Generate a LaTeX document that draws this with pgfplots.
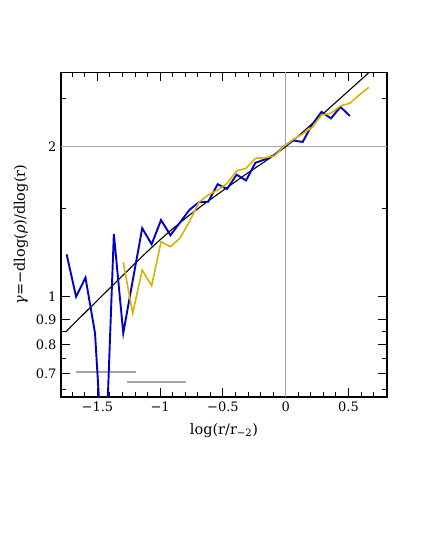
\documentclass[border=0pt]{standalone}
\usepackage{fontspec}
\setmainfont{DejaVu Serif}
\usepackage{pgfplots}
\pgfplotsset{compat=1.18}
\definecolor{cblue}{RGB}{0,0,200}
\definecolor{cgold}{RGB}{218,178,0}
\definecolor{cgray}{RGB}{165,165,165}
\begin{document}
\begin{tikzpicture}
\begin{axis}[
  scale only axis, width=326pt, height=324.7pt,
  at={(0,0)}, anchor=south west,
  xmin=-1.79, xmax=0.807,
  ymode=log, ymin=0.629, ymax=2.82,
  axis line style={line width=1.3pt},
  /pgf/number format/assume math mode=true,
  xtick={-1.5,-1,-0.5,0,0.5},
  xticklabels={−1.5,−1,−0.5,0,0.5},
  minor xtick={-1.7,-1.6,-1.4,-1.3,-1.2,-1.1,-0.9,-0.8,-0.7,-0.6,-0.4,-0.3,-0.2,-0.1,0.1,0.2,0.3,0.4,0.6,0.7},
  ytick={0.7,0.8,0.9,1,2},
  yticklabels={0.7,0.8,0.9,1,2},
  minor ytick={0.65,0.75,0.85,1.5,2.5},
  major tick length=9pt, minor tick length=5pt,
  tick style={line width=1pt, black},
  tick align=inside,
  xtick pos=both, ytick pos=both,
  ticklabel style={font=\fontsize{13}{15}\selectfont},
  xticklabel style={yshift=-1pt},
  yticklabel style={xshift=-1pt},
  label style={font=\fontsize{14.5}{17}\selectfont},
  xlabel={log(r/r\textsubscript{−2})},
  ylabel={{\itshape γ}=−dlog({\itshape ρ})/dlog(r)},
  xlabel style={at={(axis description cs:0.5,-0.102)}, anchor=center},
  ylabel style={at={(axis description cs:-0.123,0.5)}, anchor=center, rotate=0},
  clip=true,
]
% reference lines
\addplot[cgray, line width=0.8pt] coordinates {(-1.79,2) (0.807,2)};
\addplot[cgray, line width=0.8pt] coordinates {(0,0.629) (0,2.82)};
% gray horizontal segments
\addplot[cgray, line width=1.8pt] coordinates {(-1.669,0.705) (-1.193,0.705)};
\addplot[cgray, line width=1.8pt] coordinates {(-1.267,0.673) (-0.793,0.673)};
% black fit line
\addplot[black, line width=1.1pt, smooth] coordinates {
(-1.75,0.851) (-1.10,1.233) (-0.76,1.462) (-0.36,1.730) (0,2.0) (0.35,2.393) (0.70,2.871)};
% blue series
\addplot[cblue, line width=1.9pt] coordinates {
(-1.745,1.216) (-1.670,1.000) (-1.595,1.092) (-1.519,0.845) (-1.444,0.41)
(-1.369,1.336) (-1.294,0.845) (-1.219,1.076) (-1.143,1.372) (-1.068,1.274)
(-0.993,1.425) (-0.918,1.328) (-0.843,1.408) (-0.767,1.493) (-0.692,1.547)
(-0.617,1.551) (-0.542,1.681) (-0.467,1.645) (-0.391,1.757) (-0.316,1.711)
(-0.241,1.857) (-0.166,1.885) (-0.091,1.925) (-0.015,2.000) (0.060,2.058)
(0.135,2.044) (0.210,2.212) (0.285,2.348) (0.361,2.279) (0.436,2.403)
(0.511,2.305)};
% gold series
\addplot[cgold, line width=1.6pt] coordinates {
(-1.294,1.172) (-1.219,0.926) (-1.143,1.131) (-1.068,1.052)
(-0.993,1.289) (-0.918,1.260) (-0.843,1.310) (-0.767,1.414) (-0.692,1.547)
(-0.617,1.600) (-0.542,1.637) (-0.467,1.689) (-0.391,1.788) (-0.316,1.810)
(-0.241,1.895) (-0.166,1.900) (-0.091,1.916) (-0.015,2.002) (0.060,2.068)
(0.135,2.121) (0.210,2.186) (0.285,2.315) (0.361,2.334) (0.436,2.414)
(0.511,2.444) (0.586,2.540) (0.661,2.630)};
\end{axis}
\path[use as bounding box] (-61pt,-148pt) rectangle (360pt,397pt);
\end{tikzpicture}
\end{document}
